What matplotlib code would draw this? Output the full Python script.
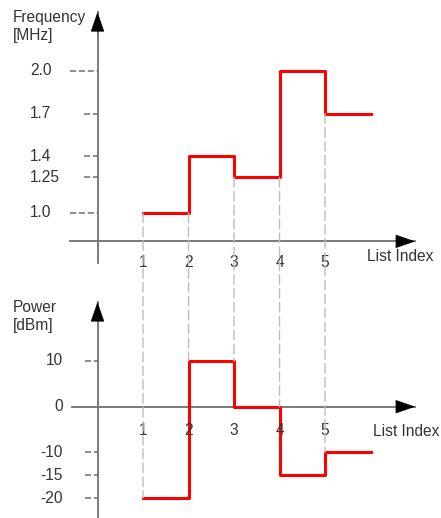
import matplotlib
matplotlib.use("Agg")
import matplotlib.pyplot as plt
from matplotlib.patches import ConnectionPatch

plt.rcParams['font.family'] = ['Liberation Sans', 'DejaVu Sans']

# list entries
list_index = [1, 2, 3, 4, 5]
freq_mhz = [1.0, 1.4, 1.25, 2.0, 1.7]
power_dbm = [-20, 10, 0, -15, -10]
last_end = 6

freq_ticks = [2.0, 1.7, 1.4, 1.25, 1.0]
freq_labels = ["2.0", "1.7", "1.4", "1.25", "1.0"]
power_ticks = [10, 0, -10, -15, -20]
power_labels = ["10", "0", "-10", "-15", "-20"]

FS = 11.2
TXT = '#333333'
AX_C = '#707070'
RED = '#ff0000'
GRID_C = '#bdbdbd'

fig = plt.figure(figsize=(4.41, 5.18), dpi=100)
ax1 = fig.add_axes([0, 238 / 518, 1, 280 / 518])
ax2 = fig.add_axes([0, 0, 1, 238 / 518])
for ax in (ax1, ax2):
    ax.set_xlim(-2.143, 7.549)
    ax.axis('off')
ax1.set_ylim(0.528, 2.5)
ax2.set_ylim(-24.35, 27.72)


def draw_axes(ax, x0, x_tip, y_base, y0, y_tip):
    ax.plot([x0, x_tip], [y_base, y_base], color=AX_C, lw=1.3, zorder=2)
    ax.plot([0, 0], [y0, y_tip], color=AX_C, lw=1.3, zorder=2, clip_on=False)
    head = dict(arrowstyle='-|>,head_length=1.3,head_width=0.45', color='black',
                lw=0.5, shrinkA=0, shrinkB=0, mutation_scale=10)
    ax.annotate('', xy=(x_tip, y_base), xytext=(x_tip - 0.4, y_base), arrowprops=head)
    ax.annotate('', xy=(0, y_tip), xytext=(0, y_tip - (y_tip - y0) * 0.08), arrowprops=head)


draw_axes(ax1, -0.6, 6.98, 0.8, 0.648, 2.415)
draw_axes(ax2, -0.56, 6.98, 0, -24.35, 22.9)

# step curves
xs = list_index + [last_end]
ax1.step(xs, freq_mhz + [freq_mhz[-1]], where='post', color=RED, lw=2.2, zorder=4)
ax2.step(xs, power_dbm + [power_dbm[-1]], where='post', color=RED, lw=2.2, zorder=4)

# dashed guide lines connecting both panels
for k, i in enumerate(list_index):
    f_top = freq_mhz[k] if k == 0 else min(freq_mhz[k - 1], freq_mhz[k])
    p_bot = power_dbm[k] if k == 0 else max(power_dbm[k - 1], power_dbm[k])
    con = ConnectionPatch(xyA=(i, f_top), coordsA=ax1.transData,
                          xyB=(i, p_bot), coordsB=ax2.transData,
                          color=GRID_C, lw=1.0, linestyle=(0, (7, 3)), zorder=1)
    fig.add_artist(con)

# y tick marks and labels
for v, lab in zip(freq_ticks, freq_labels):
    x_start = -0.6 if v in (1.0, 2.0) else -0.297
    ax1.plot([x_start, 0], [v, v], color=AX_C, lw=1.1, linestyle=(0, (4, 1.8)))
    ax1.text(-1.484, v, lab, ha='left', va='center', fontsize=FS, color=TXT)
for v, lab in zip(power_ticks, power_labels):
    if v != 0:
        ax2.plot([-0.275, 0], [v, v], color=AX_C, lw=1.1, linestyle=(0, (4, 1.8)))
    ax2.text(-0.758, v, lab, ha='right', va='center', fontsize=FS, color=TXT)

# x tick labels
for i in list_index:
    ax1.text(i, 0.648, str(i), ha='center', va='center', fontsize=FS, color=TXT, zorder=5)
    ax2.text(i, -5.3, str(i), ha='center', va='center', fontsize=FS, color=TXT, zorder=5)

ax1.text(5.92, 0.697, "List Index", ha='left', va='center', fontsize=FS, color=TXT)
ax2.text(6.05, -5.5, "List Index", ha='left', va='center', fontsize=FS, color=TXT)

ax1.text(-1.857, 2.43, "Frequency\n[MHz]", ha='left', va='top', fontsize=FS,
         color=TXT, linespacing=1.25)
ax2.text(-1.857, 23.35, "Power\n[dBm]", ha='left', va='top', fontsize=FS,
         color=TXT, linespacing=1.25)

fig.savefig("out.png", dpi=100)
